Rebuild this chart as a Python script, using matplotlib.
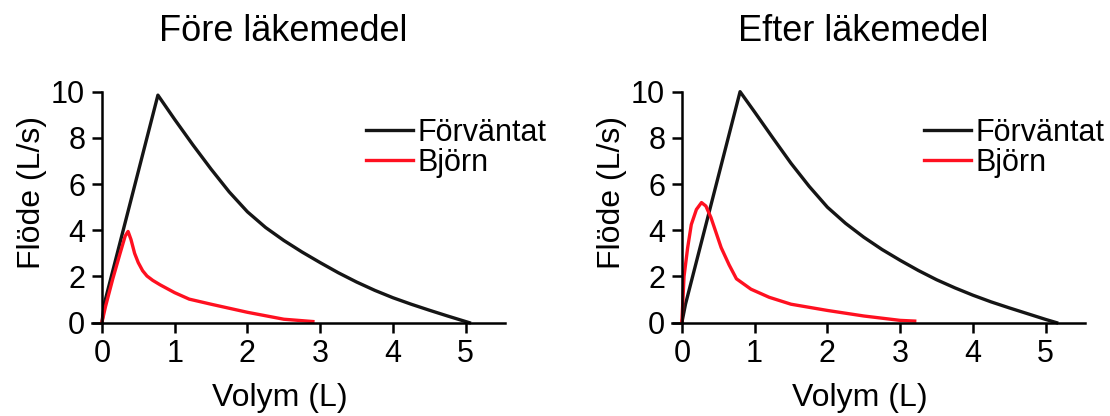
import matplotlib
matplotlib.use('Agg')
from matplotlib import pyplot as plt

plt.rcParams['font.family'] = ['Liberation Sans', 'DejaVu Sans']

TITLES = ['Före läkemedel', 'Efter läkemedel']
XLABEL = 'Volym (L)'
YLABEL = 'Flöde (L/s)'
SERIES_NAMES = ['Förväntat', 'Björn']
X_TICKS = [0, 1, 2, 3, 4, 5]
Y_TICKS = [0, 2, 4, 6, 8, 10]

# before medication
pre_exp_vol = [0, 0.04, 0.77, 1.0, 1.25, 1.5, 1.75, 2.0, 2.25, 2.5, 2.75, 3.0, 3.25, 3.5,
               3.75, 4.0, 4.25, 4.5, 4.75, 5.05]
pre_exp_flow = [0, 0.9, 9.85, 8.8, 7.7, 6.65, 5.66, 4.8, 4.12, 3.56, 3.06, 2.6, 2.16, 1.76,
                1.4, 1.08, 0.8, 0.54, 0.29, 0]
pre_bjorn_vol = [0, 0.05, 0.15, 0.25, 0.32, 0.36, 0.4, 0.45, 0.5, 0.56, 0.62, 0.7, 0.8, 1.0,
                 1.2, 1.5, 2.0, 2.5, 2.9]
pre_bjorn_flow = [0, 0.7, 1.9, 3.0, 3.75, 3.95, 3.6, 3.0, 2.6, 2.25, 2.02, 1.83, 1.64, 1.3,
                  1.02, 0.8, 0.45, 0.15, 0.05]

# after medication
post_exp_vol = [0, 0.05, 0.8, 1.0, 1.25, 1.5, 1.75, 2.0, 2.25, 2.5, 2.75, 3.0, 3.25, 3.5,
                3.75, 4.0, 4.25, 4.5, 4.75, 5.0, 5.15]
post_exp_flow = [0, 0.8, 10.0, 9.12, 8.0, 6.9, 5.9, 5.0, 4.3, 3.7, 3.17, 2.7, 2.26, 1.86,
                 1.51, 1.19, 0.9, 0.64, 0.39, 0.14, 0]
post_bjorn_vol = [0, 0.03, 0.08, 0.13, 0.2, 0.27, 0.33, 0.4, 0.47, 0.54, 0.65, 0.75, 0.95,
                  1.2, 1.5, 2.0, 2.5, 3.0, 3.2]
post_bjorn_flow = [0, 2.0, 3.25, 4.25, 4.9, 5.2, 5.05, 4.55, 3.9, 3.25, 2.5, 1.9, 1.45,
                   1.1, 0.8, 0.53, 0.29, 0.1, 0.07]

FS = 22
LW = 2.4
BLACK = '#151515'
RED = '#ff1020'


def draw_panel(ax, title, exp_vol, exp_flow, bj_vol, bj_flow, legend_xy):
    ax.plot(exp_vol, exp_flow, color=BLACK, lw=LW, clip_on=False, label=SERIES_NAMES[0],
            solid_joinstyle='round')
    ax.plot(bj_vol, bj_flow, color=RED, lw=LW, clip_on=False, label=SERIES_NAMES[1],
            solid_joinstyle='round')
    ax.set_xlim(-0.14, 5.54)
    ax.set_ylim(0, 10)
    for s in ['top', 'right']:
        ax.spines[s].set_visible(False)
    ax.spines['left'].set_position(('data', 0))
    for s in ['left', 'bottom']:
        ax.spines[s].set_linewidth(1.8)
    ax.set_xticks(X_TICKS)
    ax.set_yticks(Y_TICKS)
    ax.tick_params(direction='out', length=7, width=1.8, labelsize=FS, pad=5)
    ax.set_xlabel(XLABEL, fontsize=23)
    ax.xaxis.set_label_coords(0.456, -0.262)
    ax.set_ylabel(YLABEL, fontsize=23)
    ax.yaxis.set_label_coords(-0.108, 0.565)
    ax.set_title(title, fontsize=26, x=0.463, y=1.2195, pad=0)
    ax.legend(loc='center left', bbox_to_anchor=legend_xy, bbox_transform=fig.transFigure,
              frameon=False, fontsize=FS, handlelength=1.53, handletextpad=0.14,
              labelspacing=0.0, borderpad=0, borderaxespad=0)


fig = plt.figure(figsize=(11.1, 4.16), dpi=100)
ax1 = fig.add_axes([0.0826, 0.2243, 0.3724, 0.5553])
ax2 = fig.add_axes([0.6051, 0.2243, 0.3724, 0.5553])

draw_panel(ax1, TITLES[0], pre_exp_vol, pre_exp_flow, pre_bjorn_vol, pre_bjorn_flow,
           (366 / 1110, 1 - 148 / 416))
draw_panel(ax2, TITLES[1], post_exp_vol, post_exp_flow, post_bjorn_vol, post_bjorn_flow,
           (924 / 1110, 1 - 148 / 416))

fig.savefig('out.png', dpi=100)
